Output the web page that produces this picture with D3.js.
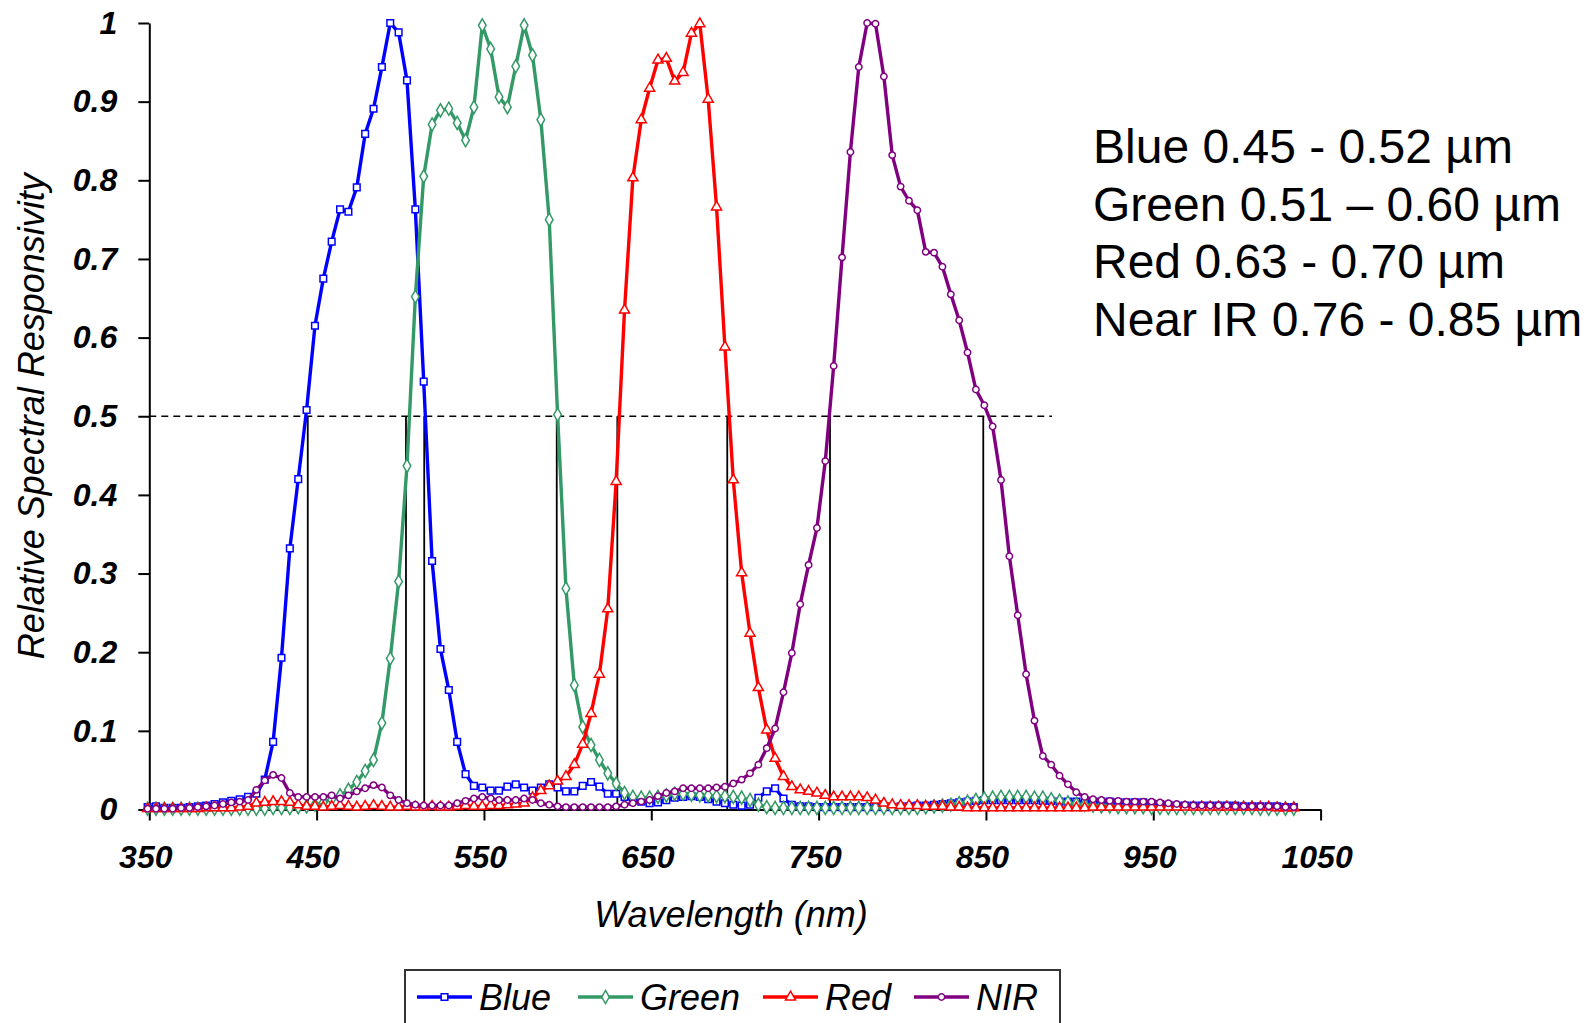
<!DOCTYPE html>
<html>
<head>
<meta charset="utf-8">
<script src="https://cdn.jsdelivr.net/npm/d3@7"></script>
<style>
body { margin: 0; background: #fff; }
text { font-family: Arial, "Liberation Sans", sans-serif; }
</style>
</head>
<body>
<svg id="chart" width="1595" height="1023"></svg>
<script>
// sampling of the curves (nm): first point and step
var startNm = 349;
var stepNm = 5;

// one row = 50 nm (350..395, 400..445, ...)
var blue = [
  0.003,0.004,0.002,0.002,0.002,0.003,0.004,0.005,0.007,0.009,
  0.011,0.013,0.016,0.020,0.038,0.086,0.193,0.332,0.420,0.508,
  0.615,0.675,0.722,0.763,0.760,0.791,0.859,0.891,0.944,1.000,
  0.988,0.927,0.763,0.544,0.316,0.204,0.152,0.086,0.045,0.030,
  0.028,0.024,0.024,0.029,0.032,0.028,0.024,0.028,0.032,0.028,
  0.023,0.023,0.030,0.035,0.029,0.020,0.020,0.016,0.012,0.010,
  0.008,0.009,0.012,0.015,0.016,0.017,0.016,0.013,0.010,0.008,
  0.006,0.005,0.006,0.015,0.023,0.027,0.014,0.006,0.004,0.004,
  0.003,0.003,0.003,0.003,0.003,0.003,0.003,0.003,0.003,0.003,
  0.004,0.004,0.005,0.005,0.006,0.007,0.008,0.009,0.010,0.011,
  0.012,0.012,0.012,0.012,0.012,0.012,0.012,0.011,0.011,0.010,
  0.010,0.010,0.010,0.010,0.010,0.010,0.009,0.009,0.009,0.009,
  0.008,0.007,0.006,0.005,0.005,0.005,0.005,0.005,0.005,0.005,
  0.005,0.004,0.004,0.004,0.004,0.004,0.003,0.003
];
var green = [
  0.001,0.001,0.001,0.001,0.001,0.001,0.001,0.001,0.001,0.001,
  0.001,0.001,0.001,0.001,0.001,0.002,0.002,0.002,0.003,0.004,
  0.006,0.009,0.013,0.018,0.025,0.035,0.049,0.063,0.110,0.192,
  0.290,0.437,0.652,0.805,0.871,0.889,0.891,0.873,0.851,0.893,
  0.997,0.967,0.906,0.893,0.945,0.997,0.959,0.877,0.750,0.502,
  0.281,0.158,0.105,0.082,0.063,0.046,0.033,0.021,0.016,0.015,
  0.015,0.016,0.018,0.020,0.020,0.019,0.018,0.018,0.017,0.017,
  0.016,0.015,0.012,0.006,0.003,0.002,0.002,0.002,0.002,0.002,
  0.002,0.002,0.002,0.002,0.002,0.002,0.002,0.002,0.002,0.002,
  0.002,0.002,0.002,0.003,0.004,0.005,0.006,0.008,0.010,0.012,
  0.014,0.015,0.016,0.016,0.016,0.016,0.015,0.015,0.013,0.011,
  0.009,0.007,0.006,0.005,0.004,0.004,0.003,0.003,0.003,0.003,
  0.002,0.002,0.002,0.002,0.002,0.002,0.002,0.002,0.002,0.002,
  0.002,0.002,0.002,0.001,0.001,0.001,0.001,0.001
];
var red = [
  0.001,0.001,0.001,0.001,0.001,0.001,0.001,0.002,0.002,0.002,
  0.002,0.003,0.004,0.008,0.009,0.010,0.010,0.009,0.006,0.004,
  0.004,0.003,0.004,0.005,0.004,0.003,0.004,0.005,0.004,0.003,
  0.003,0.004,0.003,0.003,0.004,0.003,0.003,0.004,0.005,0.004,
  0.004,0.005,0.005,0.006,0.007,0.008,0.015,0.024,0.030,0.036,
  0.042,0.057,0.083,0.122,0.172,0.255,0.417,0.635,0.803,0.877,
  0.917,0.953,0.955,0.926,0.937,0.987,0.999,0.903,0.766,0.588,
  0.419,0.301,0.224,0.155,0.101,0.065,0.042,0.029,0.025,0.023,
  0.021,0.018,0.016,0.016,0.016,0.016,0.015,0.012,0.008,0.006,
  0.005,0.005,0.005,0.004,0.004,0.004,0.003,0.003,0.002,0.002,
  0.002,0.002,0.002,0.002,0.002,0.002,0.002,0.002,0.002,0.002,
  0.002,0.002,0.002,0.003,0.003,0.003,0.003,0.003,0.003,0.003,
  0.003,0.003,0.003,0.003,0.003,0.003,0.003,0.003,0.003,0.003,
  0.003,0.003,0.003,0.003,0.003,0.002,0.002,0.002
];
var nir = [
  0.001,0.001,0.001,0.001,0.002,0.002,0.003,0.004,0.005,0.007,
  0.009,0.010,0.012,0.025,0.037,0.044,0.040,0.021,0.016,0.016,
  0.016,0.016,0.018,0.014,0.018,0.023,0.027,0.031,0.028,0.018,
  0.012,0.008,0.006,0.005,0.005,0.005,0.005,0.008,0.011,0.014,
  0.016,0.014,0.012,0.012,0.012,0.014,0.012,0.008,0.006,0.004,
  0.003,0.003,0.003,0.003,0.003,0.003,0.004,0.006,0.008,0.010,
  0.012,0.017,0.021,0.023,0.027,0.027,0.027,0.027,0.028,0.029,
  0.033,0.038,0.046,0.057,0.078,0.103,0.149,0.199,0.261,0.311,
  0.358,0.443,0.564,0.702,0.836,0.944,1.000,0.999,0.932,0.832,
  0.792,0.774,0.762,0.709,0.708,0.690,0.655,0.622,0.581,0.534,
  0.514,0.487,0.419,0.322,0.247,0.172,0.113,0.068,0.057,0.043,
  0.032,0.022,0.016,0.013,0.012,0.011,0.011,0.010,0.010,0.010,
  0.010,0.009,0.008,0.007,0.006,0.005,0.005,0.005,0.005,0.005,
  0.004,0.004,0.004,0.004,0.004,0.004,0.003,0.003
];

var seriesNames = ["Blue", "Green", "Red", "NIR"];
var seriesColors = ["#0000ff", "#339966", "#ff0000", "#800080"];
var seriesSymbols = [d3.symbolSquare, d3.symbolDiamond, d3.symbolTriangle, d3.symbolCircle];
var symbolSizes = [44, 50, 44, 32];

// half-power wavelengths marked by the vertical lines
var cutoffs = [444.7, 503.4, 514.3, 593.5, 629.7, 695.4, 756.8, 848.4];
var halfLevel = 0.5;
var halfLineEnd = 1052; // right end of the dashed line in px

var xTicks = [350, 450, 550, 650, 750, 850, 950, 1050];
var yTicks = [0, 0.1, 0.2, 0.3, 0.4, 0.5, 0.6, 0.7, 0.8, 0.9, 1];
var bandLabels = [
  "Blue 0.45 - 0.52 \u00b5m",
  "Green 0.51 \u2013 0.60 \u00b5m",
  "Red 0.63 - 0.70 \u00b5m",
  "Near IR 0.76 - 0.85 \u00b5m"
];

var svg = d3.select("#chart");

var x = d3.scaleLinear().domain([350, 1050]).range([149.3, 1320.6]);
var y = d3.scaleLinear().domain([0, 1]).range([809.5, 23]);

var data = [blue, green, red, nir].map(function (vals, s) {
    return {
        name: seriesNames[s],
        color: seriesColors[s],
        symbol: seriesSymbols[s],
        size: symbolSizes[s],
        points: vals.map(function (v, i) { return { nm: startNm + i * stepNm, v: v }; })
    };
});

// y axis
var yAxis = svg.append("g")
    .attr("transform", "translate(" + x(350) + ",0)")
    .call(d3.axisLeft(y).tickValues(yTicks).tickSize(11).tickSizeOuter(0).tickPadding(21)
        .tickFormat(function (d) { return d === 0 || d === 1 ? String(d) : d3.format(".1f")(d); }));
yAxis.select(".domain").attr("stroke", "#000").attr("stroke-width", 2);
yAxis.selectAll(".tick line").attr("stroke", "#000").attr("stroke-width", 2);
yAxis.selectAll(".tick text")
    .attr("fill", "#000")
    .style("font-size", "32px")
    .style("font-weight", "bold")
    .style("font-style", "italic");

// x axis
var xAxis = svg.append("g")
    .attr("transform", "translate(0," + y(0) + ")")
    .call(d3.axisBottom(x).tickValues(xTicks).tickSize(11).tickSizeOuter(0).tickPadding(25)
        .tickFormat(d3.format("d")));
xAxis.select(".domain").attr("stroke", "#000").attr("stroke-width", 2);
xAxis.selectAll(".tick line").attr("stroke", "#000").attr("stroke-width", 2);
xAxis.selectAll(".tick text")
    .attr("fill", "#000")
    .attr("dx", "-4")
    .style("font-size", "32px")
    .style("font-weight", "bold")
    .style("font-style", "italic");

// axis titles
svg.append("text")
    .attr("transform", "translate(44," + y(0.5) + ") rotate(-90)")
    .attr("text-anchor", "middle")
    .style("font-size", "36px")
    .style("font-style", "italic")
    .text("Relative Spectral Responsivity");

svg.append("text")
    .attr("x", 731)
    .attr("y", 927)
    .attr("text-anchor", "middle")
    .style("font-size", "36px")
    .style("font-style", "italic")
    .text("Wavelength (nm)");

// 50% reference lines
svg.append("line")
    .attr("x1", x(350)).attr("x2", halfLineEnd)
    .attr("y1", y(halfLevel)).attr("y2", y(halfLevel))
    .attr("stroke", "#000").attr("stroke-width", 1.5)
    .attr("stroke-dasharray", "7,5");

svg.append("g").selectAll("line")
    .data(cutoffs)
    .enter().append("line")
    .attr("x1", function (d) { return x(d); })
    .attr("x2", function (d) { return x(d); })
    .attr("y1", y(halfLevel))
    .attr("y2", y(0))
    .attr("stroke", "#000")
    .attr("stroke-width", 1.8);

// curves
var line = d3.line()
    .x(function (d) { return x(d.nm); })
    .y(function (d) { return y(d.v); });

var series = svg.append("g").selectAll("g")
    .data(data)
    .enter().append("g");

series.append("path")
    .attr("d", function (d) { return line(d.points); })
    .attr("fill", "none")
    .attr("stroke", function (d) { return d.color; })
    .attr("stroke-width", 3.4)
    .attr("stroke-linejoin", "round");

series.each(function (s) {
    d3.select(this).selectAll("path.mk")
        .data(s.points)
        .enter().append("path")
        .attr("class", "mk")
        .attr("transform", function (d) { return "translate(" + x(d.nm) + "," + y(d.v) + ")"; })
        .attr("d", d3.symbol().type(s.symbol).size(s.size))
        .attr("fill", "#fff")
        .attr("stroke", s.color)
        .attr("stroke-width", 1.5);
});

// band annotation
svg.append("g").selectAll("text")
    .data(bandLabels)
    .enter().append("text")
    .attr("x", 1093)
    .attr("y", function (d, i) { return 163 + i * 57.5; })
    .style("font-size", "48px")
    .attr("fill", "#000")
    .text(function (d) { return d; });

// legend
var legendX = [417, 578, 763, 914];
var legend = svg.append("g");
legend.append("rect")
    .attr("x", 405).attr("y", 970)
    .attr("width", 655).attr("height", 75)
    .attr("fill", "#fff")
    .attr("stroke", "#333")
    .attr("stroke-width", 2);

data.forEach(function (s, i) {
    var lx = legendX[i];
    var g = legend.append("g");
    g.append("line")
        .attr("x1", lx).attr("x2", lx + 55)
        .attr("y1", 997).attr("y2", 997)
        .attr("stroke", s.color).attr("stroke-width", 3.4);
    g.append("path")
        .attr("transform", "translate(" + (lx + 27.5) + ",997)")
        .attr("d", d3.symbol().type(s.symbol).size(s.size))
        .attr("fill", "#fff")
        .attr("stroke", s.color)
        .attr("stroke-width", 1.5);
    g.append("text")
        .attr("x", lx + 62)
        .attr("y", 1010)
        .style("font-size", "36px")
        .style("font-style", "italic")
        .text(s.name);
});
</script>
</body>
</html>
